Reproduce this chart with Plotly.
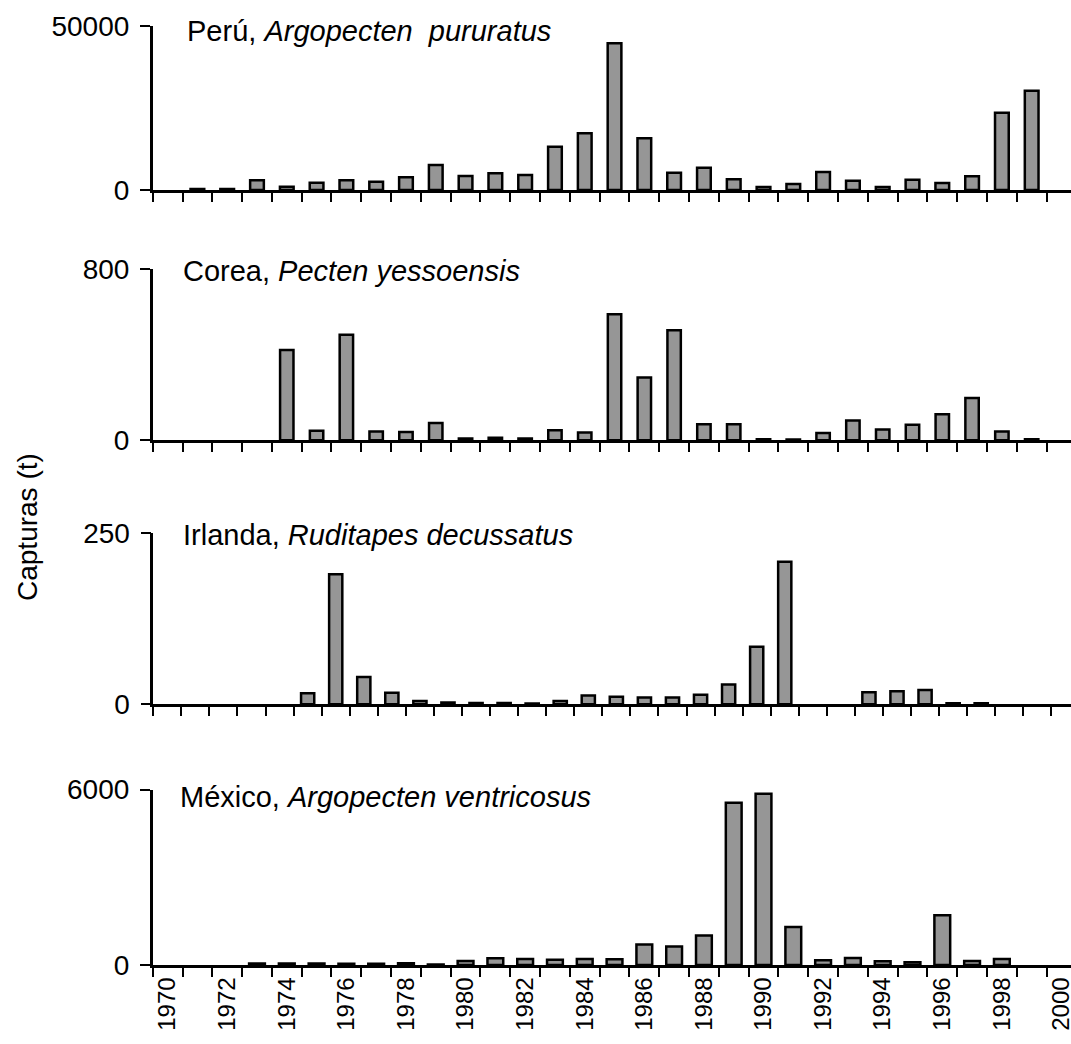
import plotly.graph_objects as go

# Catches per year (t) for four bivalve fisheries
years = list(range(1970, 2001))            # 1970..2000
years_irl = list(range(1970, 2002))        # Irlanda axis spans one extra block

peru = [None, 300, 300, 3000, 1000, 2200, 3000, 2500, 3850, 7600,
        4250, 5070, 4560, 13180, 17240, 44640, 15730, 5270, 6790, 3250,
        900, 1830, 5480, 2840, 900, 3140, 2130, 4160, 23530, 30220, None]

corea = [None, None, None, None, 422, 44, 494, 41, 38, 81,
         8, 11, 8, 47, 36, 590, 294, 515, 75, 75,
         5, 3, 34, 92, 50, 72, 122, 198, 41, 5, None]

irlanda = [None, None, None, None, None, 16, 190, 40, 17, 5,
           2.5, 2, 2, 1, 5, 13, 11, 10, 10, 14,
           29, 84, 208.5, None, None, 17.5, 19, 21, 1.5, 1.5, None, None]

mexico = [None, None, None, 50, 50, 50, 40, 40, 60, 15,
          137, 228, 206, 183, 206, 194, 697, 629, 1006, 5543,
          5852, 1303, 160, 240, 126, 91, 1703, 137, 206, None, None]

titles = ["Perú, <i>Argopecten\u00a0 pururatus</i>",
          "Corea, <i>Pecten yessoensis</i>",
          "Irlanda, <i>Ruditapes decussatus</i>",
          "México, <i>Argopecten ventricosus</i>"]
y_max = [50000, 800, 250, 6000]
y_label = "Capturas (t)"

W, H = 1071, 1044
FONT = "Arial, 'Liberation Sans', sans-serif"
BAR_FILL = "#969696"

# panel geometry in pixels: left edge, top, bottom, x-range end, bar width, title position
panels = [
    dict(x=years, y=peru, left=152.7, top=25.7, bottom=190.0, xend=30.32, bw=0.46, tx=185, ty=31.5),
    dict(x=years, y=corea, left=152.7, top=269.3, bottom=440.2, xend=30.32, bw=0.45, tx=181, ty=271.5),
    dict(x=years_irl, y=irlanda, left=153.3, top=533.3, bottom=704.3, xend=32.2, bw=0.47, tx=181, ty=535),
    dict(x=years, y=mexico, left=152.7, top=789.5, bottom=965.0, xend=30.32, bw=0.53, tx=178, ty=796.5),
]

fig = go.Figure()
annotations = []

for i, p in enumerate(panels):
    n = i + 1
    xa = "x" if n == 1 else f"x{n}"
    ya = "y" if n == 1 else f"y{n}"
    cats = [str(v) for v in p["x"]]
    fig.add_trace(go.Bar(
        x=cats, y=p["y"], xaxis=xa, yaxis=ya,
        width=p["bw"],
        marker=dict(color=BAR_FILL, line=dict(color="black", width=2.5)),
        showlegend=False,
    ))
    last = (n == 4)
    ticktext = [c if (int(c) % 2 == 0 and last) else "" for c in cats]
    xaxis = dict(
        type="category",
        domain=[p["left"] / W, 1.0],
        anchor=ya,
        range=[-0.5, p["xend"]],
        tickson="boundaries",
        tickmode="array",
        tickvals=cats,
        ticktext=ticktext,
        showticklabels=last,
        tickangle=-90,
        ticks="outside", ticklen=9, tickwidth=2, tickcolor="black",
        showline=True, linecolor="black", linewidth=2.5,
        showgrid=False, zeroline=False,
        tickfont=dict(family=FONT, size=24, color="black"),
        ticklabelstandoff=0,
        automargin=False,
    )
    yaxis = dict(
        domain=[1 - p["bottom"] / H, 1 - p["top"] / H],
        anchor=xa,
        range=[0, y_max[i]],
        tickmode="array",
        tickvals=[0, y_max[i]],
        ticktext=["0", str(y_max[i])],
        ticks="outside", ticklen=10, tickwidth=2, tickcolor="black",
        showline=True, linecolor="black", linewidth=2.5,
        showgrid=False, zeroline=False,
        tickfont=dict(family=FONT, size=28, color="black"),
        ticklabelstandoff=5,
        automargin=False,
    )
    fig.update_layout(**{("xaxis" if n == 1 else f"xaxis{n}"): xaxis,
                         ("yaxis" if n == 1 else f"yaxis{n}"): yaxis})
    annotations.append(dict(
        text=titles[i], xref="paper", yref="paper",
        x=p["tx"] / W, y=1 - p["ty"] / H,
        xanchor="left", yanchor="middle", showarrow=False,
        font=dict(family=FONT, size=29, color="black"),
    ))

annotations.append(dict(
    text=y_label, xref="paper", yref="paper",
    x=27 / W, y=1 - 527 / H, xanchor="center", yanchor="middle",
    textangle=-90, showarrow=False,
    font=dict(family=FONT, size=28, color="black"),
))

fig.update_layout(
    width=W, height=H,
    margin=dict(l=0, r=0, t=0, b=0),
    paper_bgcolor="white", plot_bgcolor="white",
    bargap=0.5,
    annotations=annotations,
)

fig.write_html("out.html")
